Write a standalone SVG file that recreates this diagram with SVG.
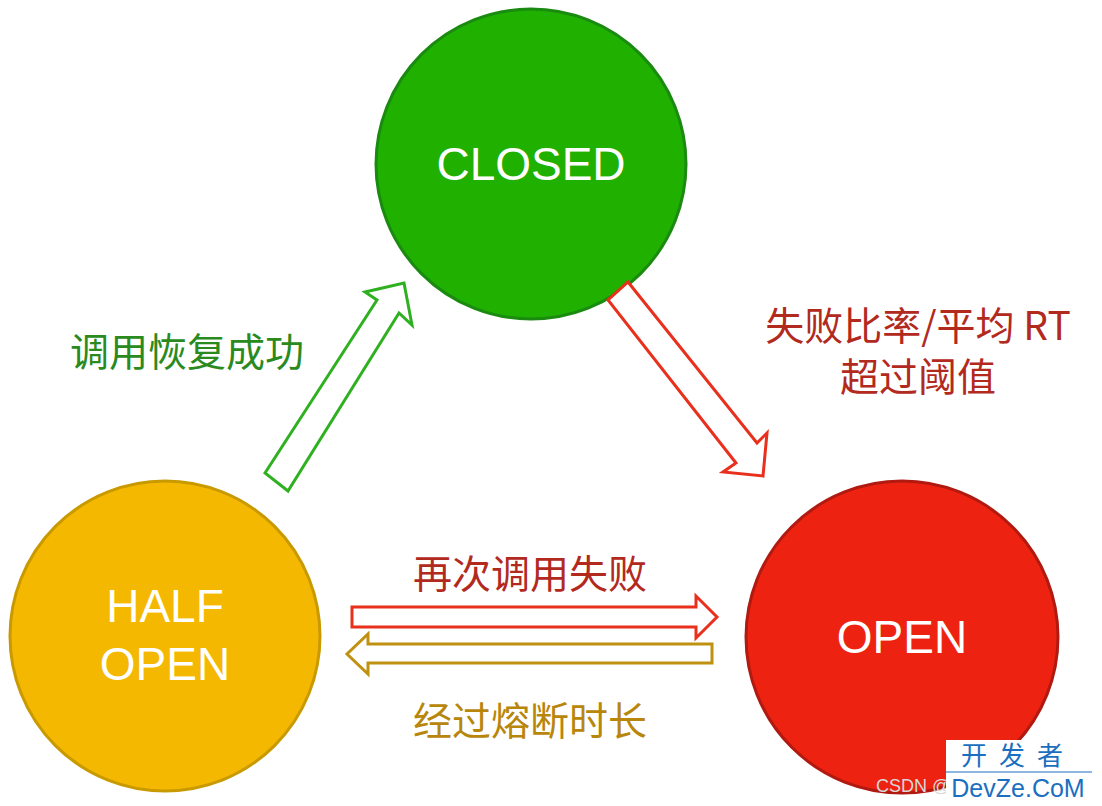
<svg xmlns="http://www.w3.org/2000/svg" width="1102" height="806" viewBox="0 0 1102 806">
<style>
.n{font-family:"Helvetica Neue","Liberation Sans",Arial,sans-serif;font-size:46px;fill:#fff;text-anchor:middle}
.l{font-family:"Noto Sans CJK SC","Liberation Sans",sans-serif;font-size:39px;text-anchor:middle}
.a{fill:#fff;stroke-width:3;stroke-linejoin:miter}
</style>
<rect width="1102" height="806" fill="#fff"/>
<g id="closed"><circle cx="531" cy="164" r="155" fill="#1fb000" stroke="#1a8a10" stroke-width="3"/><text class="n" x="531" y="180">CLOSED</text></g>
<g id="halfopen"><circle cx="165" cy="636" r="155" fill="#f5b800" stroke="#c99a00" stroke-width="3"/><text class="n" x="165" y="622">HALF</text><text class="n" x="165" y="680">OPEN</text></g>
<g id="open"><circle cx="902" cy="637" r="156" fill="#ee2211" stroke="#b01a10" stroke-width="3"/><text class="n" x="902" y="653">OPEN</text></g>
<g id="connectors">
<polygon class="a" stroke="#2fb020" points="265,473 377,300 365,292 404,283 412,325 399,313 288,491"/>
<polygon class="a" stroke="#e8301c" points="628,282 757,443 767,433 763,476 723,472 736,463 608,300"/>
<polygon class="a" stroke="#e8301c" points="352,607 696,607 696,596 717,617 696,638 696,627 352,627"/>
<polygon class="a" stroke="#c09010" points="712,644 368,644 368,634 347,654 368,674 368,663 712,663"/>
</g>
<g id="labels">
<text class="l" x="187" y="366" fill="#2a8a1e">调用恢复成功</text>
<text class="l" x="918" y="340" fill="#b22a1e">失败比率/平均 RT</text>
<text class="l" x="918" y="391" fill="#b22a1e">超过阈值</text>
<text class="l" x="530" y="588" fill="#b22a1e">再次调用失败</text>
<text class="l" x="530" y="735" fill="#b8860b">经过熔断时长</text>
</g>
<g id="watermark">
<text x="876" y="792" font-family="Liberation Sans,sans-serif" font-size="18" fill="#d8d8d8">CSDN @</text>
<rect x="946" y="740" width="148" height="62" fill="#fff"/>
<text x="1018" y="765" font-family="Noto Sans CJK SC,sans-serif" font-size="26" fill="#1a6fc0" text-anchor="middle" letter-spacing="12">开发者</text>
<line x1="946" y1="772" x2="1092" y2="772" stroke="#1a6fc0" stroke-width="1"/>
<text x="1018" y="797" font-family="Liberation Sans,sans-serif" font-size="25" fill="#1a6fc0" text-anchor="middle">DevZe.CoM</text>
</g>
</svg>
